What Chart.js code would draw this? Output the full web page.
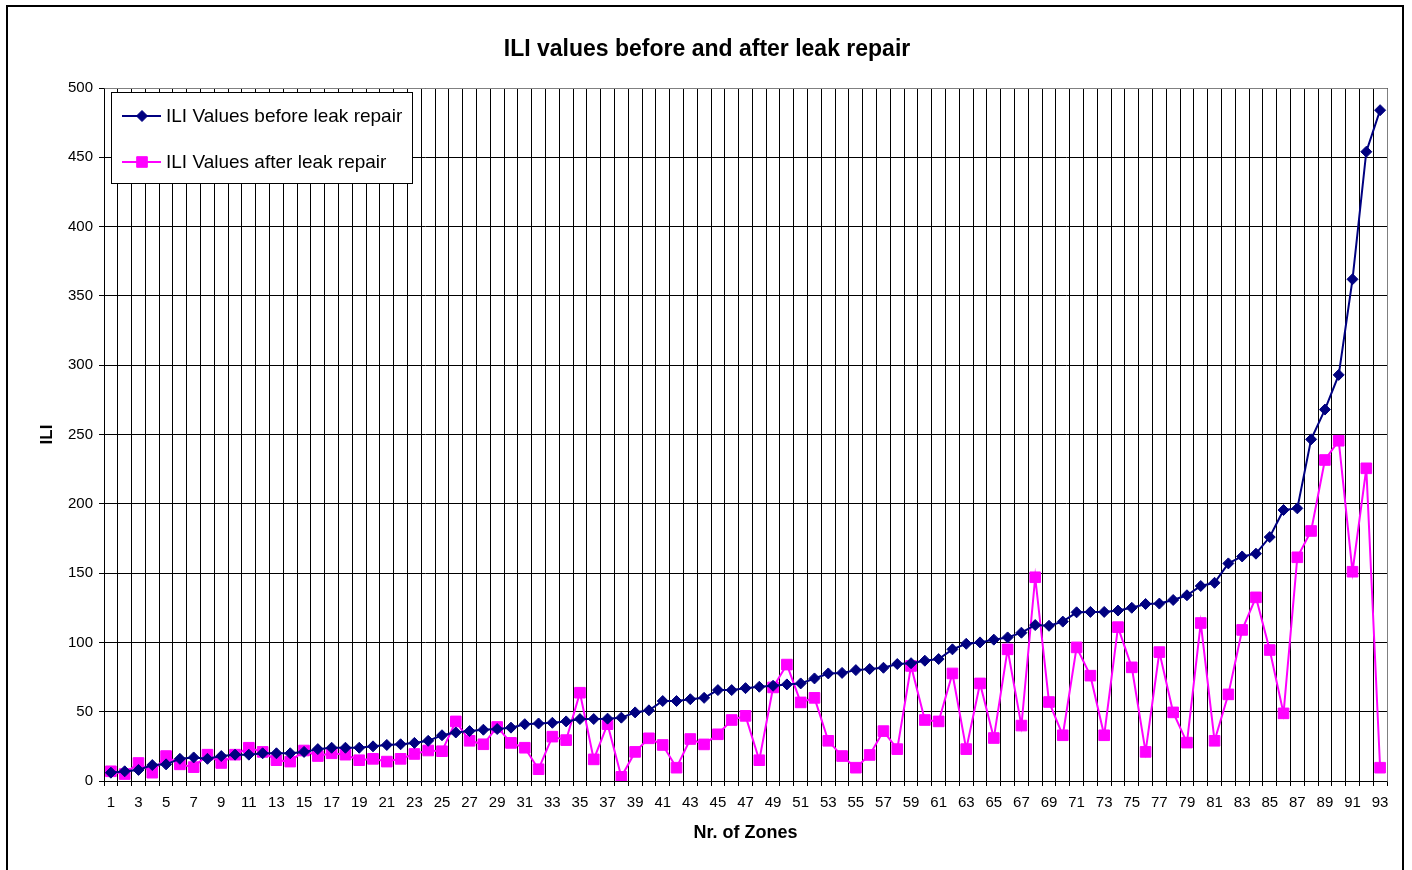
<!DOCTYPE html>
<html>
<head>
<meta charset="utf-8">
<title>ILI values before and after leak repair</title>
<script src="https://cdn.jsdelivr.net/npm/chart.js@4.4.1/dist/chart.umd.min.js"></script>
<style>
  html, body { margin: 0; padding: 0; background: #fff; overflow: hidden; }
  #wrap { position: relative; width: 1412px; height: 870px; }
  #frame { position: absolute; left: 6px; top: 5px; width: 1398px; height: 1000px;
           box-sizing: border-box; border: 2px solid #000; pointer-events: none; }
  canvas { position: absolute; left: 0; top: 0; }
</style>
</head>
<body>
<div id="wrap">
  <canvas id="iliChart" width="1412" height="870"></canvas>
  <div id="frame"></div>
</div>
<script>
// zone numbers 1..93
var zones = [];
for (var i = 1; i <= 93; i++) zones.push(i);

var iliBefore = [6, 7, 8, 11.5, 12, 16, 17, 16, 18, 19,
  19, 20, 20, 20, 21, 23, 24, 24, 24, 25,
  26, 26.5, 27.5, 29, 33, 35, 36, 37, 37.5, 38.5,
  41, 41.5, 42, 43, 44.7, 44.7, 45, 45.7, 49.5, 51,
  57.7, 57.7, 59, 60, 65.6, 65.6, 67, 68, 68.7, 69.7,
  70.4, 74, 77.6, 78, 80, 80.8, 81.7, 84.4, 85, 86.8,
  88, 95, 99, 100, 102, 103.6, 107, 112.5, 112, 115,
  121.7, 122, 122, 123, 125, 127.7, 128, 130.6, 134, 140.7,
  143, 157, 162, 164, 176, 195.5, 196.7, 246.5, 268, 293,
  362, 454, 484];

var iliAfter = [7, 5, 13, 6, 18, 12, 10, 19, 13, 19,
  24, 21, 15, 14, 22, 18, 20, 19, 15, 16,
  14, 16, 19.5, 22, 21.5, 43, 29, 26.5, 39, 27.5,
  24, 8.5, 32, 29.5, 63.7, 15.6, 41, 3, 21, 30.8,
  26, 9.6, 30.3, 26.4, 33.7, 44, 47, 15, 67.5, 84,
  56.7, 60, 29, 18, 9.6, 18.8, 36, 23, 83, 44,
  43, 77.6, 23, 70.4, 31, 95, 40, 147, 57, 33,
  96.4, 76, 33, 111, 82, 21, 93, 49.5, 27.7, 114,
  29, 62.5, 109, 132.5, 94.5, 48.8, 161.4, 180.4, 231.6, 245.5,
  151, 225.6, 9.6];

var seriesNames = ['ILI Values before leak repair', 'ILI Values after leak repair'];

var FONT = '"Liberation Sans", Arial, sans-serif';

// grey frame on top and right of the plot area
var plotFrame = {
  id: 'plotFrame',
  afterDraw: function(chart) {
    var a = chart.chartArea, ctx = chart.ctx;
    ctx.save();
    ctx.strokeStyle = '#808080';
    ctx.lineWidth = 1;
    ctx.beginPath();
    ctx.moveTo(Math.round(a.left) + 0.5, Math.round(a.top) + 0.5);
    ctx.lineTo(Math.round(a.right) + 0.5, Math.round(a.top) + 0.5);
    ctx.lineTo(Math.round(a.right) + 0.5, Math.round(a.bottom) + 0.5);
    ctx.stroke();
    ctx.restore();
  }
};

// legend box inside the plot, top left
var boxLegend = {
  id: 'boxLegend',
  afterDatasetsDraw: function(chart) {
    var ctx = chart.ctx;
    ctx.save();
    ctx.fillStyle = '#fff';
    ctx.fillRect(111.5, 92.5, 301, 91);
    ctx.strokeStyle = '#000';
    ctx.lineWidth = 1;
    ctx.strokeRect(111.5, 92.5, 301, 91);
    chart.data.datasets.forEach(function(ds, i) {
      var y = 116 + i * 46;
      ctx.strokeStyle = ds.borderColor;
      ctx.lineWidth = ds.borderWidth;
      ctx.beginPath();
      ctx.moveTo(122, y);
      ctx.lineTo(161, y);
      ctx.stroke();
      ctx.fillStyle = ds.pointBackgroundColor;
      ctx.strokeStyle = ds.pointBorderColor;
      ctx.lineWidth = 1;
      Chart.helpers.drawPoint(ctx, { pointStyle: ds.pointStyle, radius: ds.pointRadius, borderWidth: 1, rotation: 0 }, 142, y);
      ctx.fillStyle = '#000';
      ctx.font = '19px ' + FONT;
      ctx.textBaseline = 'middle';
      ctx.textAlign = 'left';
      ctx.fillText(ds.label, 166, y + 1);
    });
    ctx.restore();
  }
};

var ctx = document.getElementById('iliChart').getContext('2d');
var iliChart = new Chart(ctx, {
  type: 'line',
  data: {
    labels: zones,
    datasets: [{
      label: seriesNames[0],
      data: iliBefore,
      borderColor: '#000080',
      backgroundColor: '#000080',
      pointBackgroundColor: '#000080',
      pointBorderColor: '#000080',
      borderWidth: 2,
      pointStyle: 'rectRot',
      pointRadius: 5.5,
      pointBorderWidth: 1,
      tension: 0
    }, {
      label: seriesNames[1],
      data: iliAfter,
      borderColor: '#ff00ff',
      backgroundColor: '#ff00ff',
      pointBackgroundColor: '#ff00ff',
      pointBorderColor: '#ff00ff',
      borderWidth: 2,
      pointStyle: 'rect',
      pointRadius: 7.5,
      pointBorderWidth: 1,
      tension: 0
    }]
  },
  options: {
    responsive: false,
    animation: false,
    devicePixelRatio: 1,
    layout: { padding: { left: 27, right: 25, top: 0, bottom: 0 } },
    plugins: {
      legend: { display: false },
      tooltip: { enabled: false },
      title: {
        display: true,
        text: 'ILI values before and after leak repair',
        color: '#000',
        font: { family: FONT, size: 23, weight: 'bold' },
        padding: { top: 36, bottom: 24.4 }
      }
    },
    scales: {
      x: {
        type: 'category',
        offset: true,
        afterFit: function(scale) { scale.height = 89; },
        grid: { offset: true, color: '#000', lineWidth: 1, tickLength: 5, drawTicks: true },
        border: { color: '#000', width: 1 },
        ticks: {
          autoSkip: false,
          maxRotation: 0,
          minRotation: 0,
          padding: 8,
          color: '#000',
          font: { family: FONT, size: 15 },
          callback: function(value, index) {
            return index % 2 === 0 ? this.getLabelForValue(value) : '';
          }
        },
        title: {
          display: true,
          text: 'Nr. of Zones',
          color: '#000',
          font: { family: FONT, size: 18, weight: 'bold' },
          padding: { top: 0, bottom: 26 }
        }
      },
      y: {
        min: 0,
        max: 500,
        afterFit: function(scale) { scale.width = 77; },
        grid: { color: '#000', lineWidth: 1, tickLength: 5, drawTicks: true },
        border: { color: '#000', width: 1 },
        ticks: {
          stepSize: 50,
          padding: 6,
          color: '#000',
          font: { family: FONT, size: 15 }
        },
        title: {
          display: true,
          text: 'ILI',
          color: '#000',
          font: { family: FONT, size: 17, weight: 'bold' },
          padding: { top: 10, bottom: 0 }
        }
      }
    }
  },
  plugins: [plotFrame, boxLegend]
});
</script>
</body>
</html>
